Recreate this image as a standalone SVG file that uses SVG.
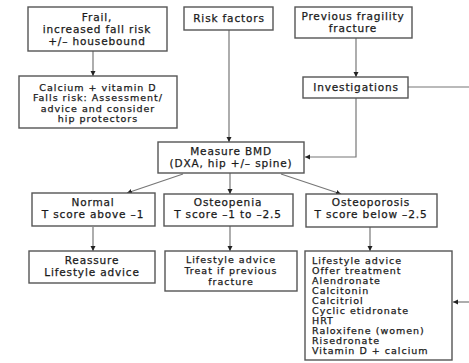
<svg xmlns="http://www.w3.org/2000/svg" width="469" height="363" viewBox="0 0 469 363">
<style>
.box{fill:#fff;stroke:#555;stroke-width:1.4}
text{font-family:"DejaVu Sans","Liberation Sans",sans-serif;font-size:10.5px;fill:#1a1a1a;stroke:#1a1a1a;stroke-width:0.25;letter-spacing:0.85px}
.c{text-anchor:middle}
.s{font-size:9.5px;letter-spacing:1px}
.ln{fill:none;stroke:#777;stroke-width:1.2}
</style>
<defs>
<marker id="ah" markerWidth="6" markerHeight="6" refX="5" refY="3" orient="auto" markerUnits="userSpaceOnUse">
<path d="M0,0.5 L5,3 L0,5.5 Z" fill="#222"/>
</marker>
</defs>
<rect width="469" height="363" fill="#fff"/>
<g id="connectors">
<line class="ln" x1="93" y1="51" x2="93" y2="76" marker-end="url(#ah)"/>
<line class="ln" x1="229" y1="30" x2="229" y2="142" marker-end="url(#ah)"/>
<line class="ln" x1="356" y1="38" x2="356" y2="77" marker-end="url(#ah)"/>
<line class="ln" x1="408" y1="87" x2="469" y2="87"/>
<polyline class="ln" points="356,98 356,157 305,157" marker-end="url(#ah)"/>
<line class="ln" x1="183" y1="174" x2="127" y2="193" marker-end="url(#ah)"/>
<line class="ln" x1="230" y1="173" x2="230" y2="194" marker-end="url(#ah)"/>
<line class="ln" x1="281" y1="174" x2="341" y2="194" marker-end="url(#ah)"/>
<line class="ln" x1="93" y1="227" x2="93" y2="251" marker-end="url(#ah)"/>
<line class="ln" x1="230" y1="226" x2="230" y2="251" marker-end="url(#ah)"/>
<line class="ln" x1="370" y1="227" x2="370" y2="251" marker-end="url(#ah)"/>
<line class="ln" x1="469" y1="302" x2="453" y2="302" marker-end="url(#ah)"/>
</g>
<g id="frail">
<rect class="box" x="28" y="7" width="139" height="44"/>
<text class="c" x="97" y="21">Frail,</text>
<text class="c" x="97" y="33">increased fall risk</text>
<text class="c" x="97" y="44.5">+/– housebound</text>
</g>
<g id="risk">
<rect class="box" x="184" y="7" width="89" height="23"/>
<text class="c" x="229" y="22">Risk factors</text>
</g>
<g id="previous">
<rect class="box" x="295" y="7" width="117" height="31"/>
<text class="c" x="353" y="20">Previous fragility</text>
<text class="c" x="353" y="31.5">fracture</text>
</g>
<g id="calcium">
<rect class="box" x="19" y="76" width="158" height="52"/>
<text class="c s" x="98" y="90.5">Calcium + vitamin D</text>
<text class="c s" x="98" y="101">Falls risk: Assessment/</text>
<text class="c s" x="98" y="111.5">advice and consider</text>
<text class="c s" x="98" y="122">hip protectors</text>
</g>
<g id="investigations">
<rect class="box" x="303" y="77" width="105" height="21"/>
<text class="c" x="356" y="91">Investigations</text>
</g>
<g id="bmd">
<rect class="box" x="158" y="142" width="146" height="31"/>
<text class="c" x="231" y="155">Measure BMD</text>
<text class="c" x="231" y="167">(DXA, hip +/– spine)</text>
</g>
<g id="normal">
<rect class="box" x="32" y="193" width="123" height="33"/>
<text class="c" x="93" y="206">Normal</text>
<text class="c" x="93" y="218">T score above –1</text>
</g>
<g id="osteopenia">
<rect class="box" x="164" y="194" width="129" height="32"/>
<text class="c" x="228" y="206">Osteopenia</text>
<text class="c" x="228" y="218">T score –1 to –2.5</text>
</g>
<g id="osteoporosis">
<rect class="box" x="306" y="194" width="131" height="33"/>
<text class="c" x="371" y="206">Osteoporosis</text>
<text class="c" x="371" y="218">T score below –2.5</text>
</g>
<g id="reassure">
<rect class="box" x="29" y="251" width="126" height="32"/>
<text class="c" x="92" y="264">Reassure</text>
<text class="c" x="92" y="276">Lifestyle advice</text>
</g>
<g id="lifestyle">
<rect class="box" x="165" y="251" width="132" height="40"/>
<text class="c s" x="231" y="263">Lifestyle advice</text>
<text class="c s" x="231" y="274">Treat if previous</text>
<text class="c s" x="231" y="285">fracture</text>
</g>
<g id="treatment">
<rect class="box" x="305" y="251" width="147" height="109"/>
<text class="s" x="312" y="264">Lifestyle advice</text>
<text class="s" x="312" y="274">Offer treatment</text>
<text class="s" x="312" y="284">Alendronate</text>
<text class="s" x="312" y="294">Calcitonin</text>
<text class="s" x="312" y="304">Calcitriol</text>
<text class="s" x="312" y="314">Cyclic etidronate</text>
<text class="s" x="312" y="324">HRT</text>
<text class="s" x="312" y="334">Raloxifene (women)</text>
<text class="s" x="312" y="344">Risedronate</text>
<text class="s" x="312" y="354">Vitamin D + calcium</text>
</g>
</svg>
